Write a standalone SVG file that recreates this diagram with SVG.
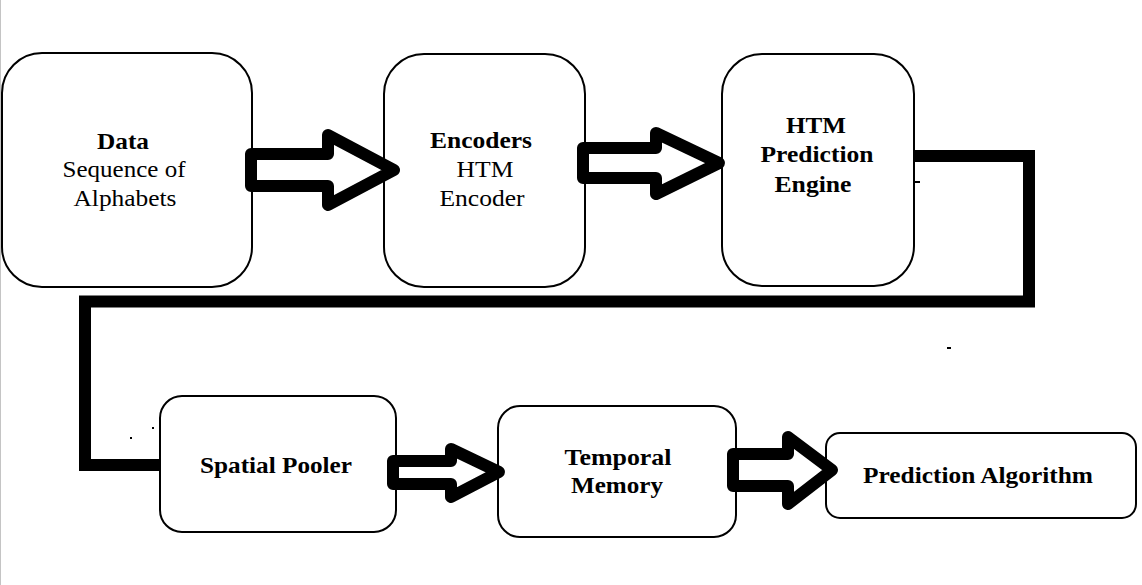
<svg xmlns="http://www.w3.org/2000/svg" width="1142" height="585" viewBox="0 0 1142 585">
<defs>
<style>
.box{fill:#fff;stroke:#000;stroke-width:2}
.arr{fill:#fff;stroke:#000;stroke-width:12;stroke-linejoin:round}
.con{fill:none;stroke:#000;stroke-width:12;stroke-linejoin:miter}
text{font-family:"Liberation Serif","Times New Roman",serif;font-size:23px;fill:#000;text-anchor:middle}
.b{font-weight:bold}
</style>
</defs>
<rect width="1142" height="585" fill="#fff"/>
<line x1="0.5" y1="0" x2="0.5" y2="585" stroke="#c4c4c4" stroke-width="1"/>
<g id="node-data">
<rect class="box" x="2" y="53" width="250" height="234" rx="40" ry="40"/>
<text class="b" x="123" y="149" textLength="52" lengthAdjust="spacingAndGlyphs">Data</text>
<text x="124" y="177" textLength="123" lengthAdjust="spacingAndGlyphs">Sequence of</text>
<text x="125" y="206" textLength="103" lengthAdjust="spacingAndGlyphs">Alphabets</text>
</g>
<g id="node-encoders">
<rect class="box" x="384" y="54" width="201" height="233" rx="40" ry="40"/>
<text class="b" x="481" y="148" textLength="102" lengthAdjust="spacingAndGlyphs">Encoders</text>
<text x="485" y="177" textLength="57" lengthAdjust="spacingAndGlyphs">HTM</text>
<text x="482" y="206" textLength="85" lengthAdjust="spacingAndGlyphs">Encoder</text>
</g>
<g id="node-htm">
<rect class="box" x="722" y="54" width="192" height="232" rx="40" ry="40"/>
<text class="b" x="816" y="133" textLength="60" lengthAdjust="spacingAndGlyphs">HTM</text>
<text class="b" x="817" y="162" textLength="113" lengthAdjust="spacingAndGlyphs">Prediction</text>
<text class="b" x="813" y="192" textLength="77" lengthAdjust="spacingAndGlyphs">Engine</text>
</g>
<g id="node-spatial">
<rect class="box" x="160" y="396" width="236" height="136" rx="22" ry="22"/>
<text class="b" x="276" y="473" textLength="152" lengthAdjust="spacingAndGlyphs">Spatial Pooler</text>
</g>
<g id="node-temporal">
<rect class="box" x="498" y="406" width="238" height="131" rx="22" ry="22"/>
<text class="b" x="618" y="465" textLength="107" lengthAdjust="spacingAndGlyphs">Temporal</text>
<text class="b" x="617" y="493" textLength="92" lengthAdjust="spacingAndGlyphs">Memory</text>
</g>
<g id="node-prediction">
<rect class="box" x="826" y="433" width="310" height="85" rx="14" ry="14"/>
<text class="b" x="978" y="483" textLength="230" lengthAdjust="spacingAndGlyphs">Prediction Algorithm</text>
</g>
<g id="connectors">
<path class="con" d="M914 156 H1029 V301.5 H85 V465 H160"/>
<polygon class="arr" points="251,154 328,154 328,135 394,170 328,205 328,186 251,186"/>
<polygon class="arr" points="583,148 656,148 656,133 719,163 656,194 656,178 583,178"/>
<polygon class="arr" points="393,461 451,461 451,449 499,472 451,497 451,484 393,484"/>
<polygon class="arr" points="733,454 788,454 788,437 832,470 788,504 788,486 733,486"/>
</g>
<g id="marks">
<rect x="914" y="181" width="6" height="2" fill="#000"/>
<rect x="947" y="347" width="4" height="2" fill="#000"/>
<rect x="130" y="437" width="2" height="2" fill="#000"/>
<rect x="152" y="427" width="2" height="2" fill="#000"/>
</g>
</svg>
